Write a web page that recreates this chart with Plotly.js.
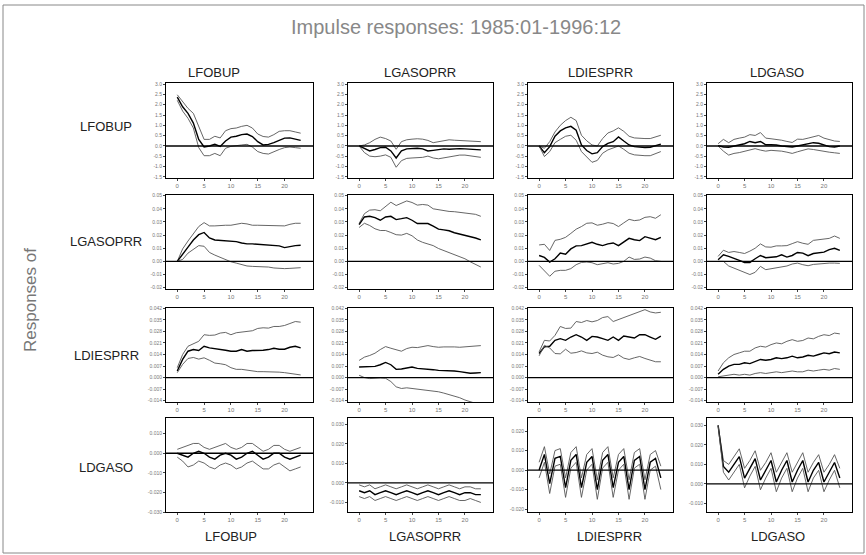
<!DOCTYPE html>
<html><head><meta charset="utf-8">
<script src="https://cdn.plot.ly/plotly-3.0.1.min.js"></script>
<style>html,body{margin:0;padding:0;background:#fff}#chart{width:866px;height:555px}</style>
</head><body><div id="chart"></div>
<script>
const steps = [0,1,2,3,4,5,6,7,8,9,10,11,12,13,14,15,16,17,18,19,20,21,22,23];
const varNames = ['LFOBUP','LGASOPRR','LDIESPRR','LDGASO'];
const xTickVals = [0,5,10,15,20];
const xTickText = ['0','5','10','15','20'];

// Row 1: responses of LFOBUP
const up_r1c1 = [2.48,2.13,1.82,1.58,0.95,0.32,0.32,0.47,0.39,0.74,0.84,0.87,0.95,1.0,0.87,0.58,0.46,0.43,0.55,0.71,0.74,0.74,0.68,0.62];
const mid_r1c1 = [2.37,1.90,1.58,1.11,0.32,-0.05,0.0,0.08,-0.02,0.24,0.43,0.47,0.55,0.58,0.46,0.21,0.05,0.08,0.16,0.28,0.38,0.39,0.32,0.27];
const lo_r1c1 = [2.21,1.69,1.34,0.87,-0.08,-0.47,-0.47,-0.36,-0.47,-0.11,-0.02,0.0,0.05,0.08,-0.05,-0.27,-0.36,-0.39,-0.27,-0.17,-0.08,-0.05,-0.08,-0.11];
const up_r1c2 = [0,0.05,0.16,0.32,0.43,0.36,0.24,-0.16,0.21,0.30,0.33,0.35,0.33,0.27,0.16,0.21,0.28,0.30,0.28,0.27,0.27,0.25,0.24,0.21];
const mid_r1c2 = [0,-0.13,-0.24,-0.17,-0.08,-0.06,-0.24,-0.58,-0.24,-0.14,-0.13,-0.11,-0.14,-0.24,-0.21,-0.16,-0.14,-0.16,-0.14,-0.13,-0.14,-0.16,-0.17,-0.19];
const lo_r1c2 = [0,-0.32,-0.49,-0.52,-0.49,-0.43,-0.55,-1.03,-0.71,-0.60,-0.58,-0.58,-0.55,-0.49,-0.58,-0.62,-0.58,-0.52,-0.47,-0.44,-0.44,-0.47,-0.51,-0.55];
const up_r1c3 = [0,-0.11,0.21,0.68,1.0,1.23,1.39,1.23,0.52,0.25,0.05,0.0,0.36,0.63,0.73,0.88,0.71,0.47,0.39,0.36,0.36,0.36,0.44,0.52];
const mid_r1c3 = [0,-0.32,-0.03,0.47,0.73,0.88,0.95,0.76,0.05,-0.22,-0.38,-0.32,-0.03,0.13,0.21,0.44,0.24,0.05,-0.03,-0.06,-0.08,-0.06,0.0,0.09];
const lo_r1c3 = [0,-0.51,-0.27,0.16,0.32,0.47,0.52,0.28,-0.27,-0.54,-0.79,-0.70,-0.35,-0.19,-0.11,0.0,-0.16,-0.35,-0.43,-0.46,-0.47,-0.47,-0.38,-0.27];
const up_r1c4 = [0.11,0.32,0.16,0.32,0.38,0.43,0.55,0.51,0.65,0.38,0.35,0.33,0.28,0.22,0.17,0.33,0.32,0.38,0.43,0.51,0.38,0.30,0.24,0.22];
const mid_r1c4 = [0.02,-0.05,-0.06,0.0,0.08,0.11,0.22,0.16,0.22,0.06,0.06,0.05,0.0,-0.02,-0.05,0.0,0.06,0.09,0.16,0.13,0.05,-0.03,-0.05,0.0];
const lo_r1c4 = [0,-0.25,-0.44,-0.36,-0.32,-0.25,-0.17,-0.13,-0.20,-0.25,-0.21,-0.22,-0.25,-0.30,-0.36,-0.28,-0.20,-0.14,-0.17,-0.22,-0.25,-0.30,-0.33,-0.36];

// Row 2: responses of LGASOPRR
const up_r2c1 = [0,0.0095,0.0155,0.021,0.0265,0.0295,0.027,0.027,0.0275,0.0275,0.0275,0.028,0.029,0.0285,0.0275,0.0275,0.0275,0.0275,0.0275,0.0273,0.027,0.0282,0.029,0.029];
const mid_r2c1 = [0,0.0058,0.0108,0.0163,0.0203,0.022,0.0178,0.0163,0.016,0.0158,0.0153,0.015,0.014,0.0133,0.0133,0.013,0.0128,0.0128,0.0125,0.0118,0.0105,0.0113,0.012,0.0123];
const lo_r2c1 = [0,0.0015,0.0063,0.0093,0.012,0.0115,0.0068,0.0048,0.003,0.0013,-0.0003,-0.0013,-0.0025,-0.0035,-0.0038,-0.0038,-0.004,-0.0043,-0.005,-0.0055,-0.0055,-0.0053,-0.005,-0.0048];
const up_r2c2 = [0.0288,0.0363,0.039,0.0393,0.0385,0.042,0.045,0.0425,0.0445,0.046,0.0448,0.0428,0.0433,0.0428,0.04,0.0393,0.039,0.038,0.0378,0.0373,0.037,0.0365,0.0358,0.0343];
const mid_r2c2 = [0.028,0.0338,0.0343,0.0333,0.0313,0.0338,0.0343,0.0318,0.0325,0.0333,0.0313,0.0288,0.0288,0.0288,0.0268,0.0245,0.024,0.0233,0.0218,0.0208,0.02,0.0193,0.0178,0.0163];
const lo_r2c2 = [0.0258,0.029,0.0273,0.0248,0.0235,0.0235,0.022,0.0203,0.02,0.0213,0.0195,0.0163,0.0145,0.0133,0.012,0.0098,0.0083,0.0065,0.005,0.0035,0.002,-0.0003,-0.0025,-0.0043];
const up_r2c3 = [0.0125,0.013,0.0083,0.016,0.0168,0.0183,0.0213,0.0245,0.0265,0.029,0.0293,0.0275,0.0283,0.0295,0.0288,0.0265,0.0293,0.032,0.031,0.0315,0.0335,0.034,0.0328,0.0355];
const mid_r2c3 = [0.0045,0.003,-0.0005,0.002,0.0063,0.0055,0.0095,0.0118,0.012,0.013,0.0145,0.013,0.012,0.0133,0.014,0.012,0.0145,0.0175,0.0165,0.0158,0.0188,0.0175,0.0165,0.0183];
const lo_r2c3 = [-0.003,-0.0068,-0.0113,-0.0075,-0.0068,-0.0068,-0.0055,-0.0025,-0.0008,-0.0005,-0.001,-0.0025,-0.0015,-0.001,-0.002,-0.0015,0.0,0.0033,0.0015,0.0018,0.0033,0.0025,0.0005,0.0];
const up_r2c4 = [0.0038,0.0085,0.0068,0.0075,0.0068,0.006,0.0078,0.01,0.0133,0.011,0.0108,0.0118,0.0118,0.012,0.0135,0.015,0.0138,0.013,0.016,0.0165,0.0168,0.0175,0.0193,0.0175];
const mid_r2c4 = [0.0013,0.005,0.0038,0.0025,0.0008,-0.0008,-0.0008,0.002,0.0045,0.0028,0.0033,0.0035,0.005,0.0033,0.0045,0.0068,0.0063,0.0043,0.006,0.0065,0.007,0.009,0.01,0.0083];
const lo_r2c4 = [0,0,-0.0035,-0.005,-0.0068,-0.0085,-0.01,-0.0083,-0.0038,-0.0063,-0.0055,-0.005,-0.004,-0.0035,-0.002,-0.0013,-0.0025,-0.0033,-0.0023,-0.0018,-0.0013,-0.0013,-0.0013,-0.0015];

// Row 3: responses of LDIESPRR
const up_r3c1 = [0.006,0.014,0.019,0.0205,0.022,0.026,0.0256,0.0258,0.027,0.0274,0.026,0.0272,0.0276,0.028,0.0284,0.0298,0.0302,0.03,0.031,0.031,0.0316,0.0328,0.034,0.0336];
const mid_r3c1 = [0.004,0.011,0.016,0.017,0.0164,0.019,0.018,0.0176,0.0174,0.0166,0.016,0.016,0.017,0.016,0.0164,0.0164,0.0166,0.017,0.0178,0.0172,0.0172,0.0184,0.019,0.018];
const lo_r3c1 = [0.003,0.008,0.0116,0.0122,0.0112,0.012,0.0105,0.0088,0.0084,0.0078,0.006,0.005,0.005,0.0045,0.004,0.0036,0.0036,0.0036,0.0036,0.0033,0.003,0.0026,0.0022,0.0016];
const up_r3c2 = [0.0104,0.0124,0.0134,0.0148,0.017,0.0188,0.0178,0.0168,0.016,0.0176,0.0184,0.0182,0.0188,0.0194,0.0188,0.0184,0.0186,0.0188,0.0186,0.0184,0.0186,0.0186,0.0188,0.0194];
const mid_r3c2 = [0.0064,0.0064,0.0064,0.0068,0.0078,0.0092,0.0078,0.005,0.0052,0.0058,0.0064,0.0056,0.0054,0.0054,0.0048,0.0044,0.0044,0.0044,0.004,0.0036,0.003,0.0026,0.0028,0.003];
const lo_r3c2 = [0.0014,0.0,-0.0006,-0.0002,-0.0002,-0.0004,-0.0024,-0.0056,-0.0066,-0.0062,-0.0066,-0.0068,-0.0072,-0.0078,-0.008,-0.0086,-0.0094,-0.0102,-0.011,-0.0122,-0.0136,-0.0146,-0.0156,-0.0166];
const up_r3c3 = [0.0156,0.0226,0.0222,0.0256,0.031,0.0298,0.03,0.034,0.0334,0.0346,0.0338,0.0346,0.0364,0.037,0.034,0.0352,0.0368,0.0378,0.0388,0.0402,0.0412,0.0398,0.0392,0.0396];
const mid_r3c3 = [0.0146,0.0186,0.019,0.0226,0.0236,0.0226,0.0246,0.026,0.0246,0.0226,0.025,0.0246,0.0236,0.0226,0.0246,0.0226,0.0252,0.0246,0.024,0.026,0.026,0.0246,0.0232,0.0252];
const lo_r3c3 = [0.0132,0.0196,0.018,0.0146,0.0144,0.0172,0.0148,0.0152,0.0162,0.015,0.0146,0.0154,0.0136,0.0126,0.0122,0.0138,0.0118,0.011,0.012,0.0128,0.0116,0.0108,0.0096,0.0096];
const up_r3c4 = [0.004,0.009,0.012,0.014,0.015,0.016,0.016,0.018,0.019,0.0185,0.02,0.021,0.0205,0.022,0.023,0.022,0.0225,0.024,0.0235,0.025,0.026,0.0255,0.027,0.0265];
const mid_r3c4 = [0.002,0.005,0.007,0.008,0.008,0.009,0.0085,0.01,0.011,0.0105,0.011,0.012,0.0115,0.012,0.013,0.012,0.0125,0.0135,0.013,0.014,0.015,0.0145,0.0155,0.015];
const lo_r3c4 = [0.0005,0.001,0.0015,0.002,0.0015,0.002,0.0015,0.0025,0.003,0.0025,0.003,0.0035,0.003,0.0035,0.004,0.0035,0.0035,0.0045,0.004,0.0045,0.005,0.0045,0.0055,0.005];

// Row 4: responses of LDGASO
const up_r4c1 = [0.002,0.003,0.004,0.005,0.005,0.003,0.002,0.003,0.004,0.005,0.003,0.002,0.003,0.005,0.005,0.003,0.001,0.002,0.004,0.004,0.002,0.001,0.002,0.003];
const mid_r4c1 = [0.0,-0.001,-0.002,0.0,0.001,0.0,-0.002,-0.003,-0.001,0.0,-0.001,-0.003,-0.002,0.0,0.001,-0.001,-0.003,-0.002,0.0,0.0,-0.002,-0.003,-0.002,-0.001];
const lo_r4c1 = [-0.002,-0.004,-0.007,-0.006,-0.004,-0.005,-0.007,-0.008,-0.006,-0.005,-0.006,-0.008,-0.007,-0.005,-0.004,-0.006,-0.008,-0.008,-0.006,-0.005,-0.007,-0.009,-0.008,-0.007];
const up_r4c2 = [-0.001,-0.002,-0.001,-0.003,-0.002,-0.001,-0.002,-0.003,-0.002,-0.001,-0.002,-0.003,-0.002,-0.001,-0.002,-0.003,-0.002,-0.001,-0.002,-0.003,-0.002,-0.002,-0.003,-0.003];
const mid_r4c2 = [-0.004,-0.005,-0.004,-0.006,-0.005,-0.004,-0.005,-0.006,-0.005,-0.004,-0.005,-0.006,-0.005,-0.004,-0.005,-0.006,-0.005,-0.004,-0.005,-0.006,-0.005,-0.005,-0.006,-0.006];
const lo_r4c2 = [-0.007,-0.008,-0.007,-0.009,-0.008,-0.007,-0.008,-0.009,-0.008,-0.007,-0.008,-0.009,-0.008,-0.007,-0.008,-0.009,-0.008,-0.007,-0.008,-0.009,-0.009,-0.008,-0.009,-0.010];
const up_r4c3 = [0.004,0.012,-0.002,0.010,0.011,-0.004,0.009,0.012,-0.004,0.008,0.011,-0.005,0.009,0.012,-0.004,0.008,0.011,-0.005,0.009,0.011,-0.005,0.008,0.010,0.002];
const mid_r4c3 = [0.0,0.008,-0.007,0.006,0.007,-0.009,0.005,0.008,-0.009,0.004,0.007,-0.010,0.005,0.008,-0.009,0.004,0.007,-0.010,0.005,0.007,-0.010,0.004,0.006,-0.004];
const lo_r4c3 = [-0.004,0.004,-0.012,0.002,0.003,-0.014,0.001,0.004,-0.014,0.0,0.003,-0.015,0.001,0.004,-0.014,0.0,0.003,-0.015,0.001,0.003,-0.015,0.0,0.002,-0.010];
const up_r4c4 = [0.030,0.012,0.010,0.014,0.018,0.008,0.012,0.017,0.007,0.011,0.016,0.006,0.011,0.016,0.006,0.011,0.016,0.006,0.011,0.015,0.006,0.010,0.015,0.008];
const mid_r4c4 = [0.030,0.009,0.006,0.010,0.014,0.003,0.008,0.013,0.002,0.007,0.012,0.001,0.007,0.012,0.001,0.007,0.012,0.001,0.007,0.011,0.001,0.006,0.011,0.003];
const lo_r4c4 = [0.030,0.006,0.002,0.006,0.010,-0.002,0.004,0.009,-0.003,0.003,0.008,-0.004,0.003,0.008,-0.004,0.003,0.008,-0.004,0.003,0.007,-0.004,0.002,0.007,-0.002];

// y axis ticks per row
const yTicksRow1 = [3.0,2.5,2.0,1.5,1.0,0.5,0.0,-0.5,-1.0,-1.5];
const yTextRow1 = ['3.0','2.5','2.0','1.5','1.0','0.5','0.0','-0.5','-1.0','-1.5'];
const yTicksRow2 = [0.05,0.04,0.03,0.02,0.01,0.0,-0.01,-0.02];
const yTextRow2 = ['0.05','0.04','0.03','0.02','0.01','0.00','-0.01','-0.02'];
const yTicksRow3 = [0.042,0.035,0.028,0.021,0.014,0.007,0.0,-0.007,-0.014];
const yTextRow3 = ['0.042','0.035','0.028','0.021','0.014','0.007','0.000','-0.007','-0.014'];
const yTicksRow4 = [0.03,0.02,0.01,0.0,-0.01,-0.02,-0.03];
const yTextRow4 = ['0.030','0.020','0.010','0.000','-0.010','-0.020','-0.030'];

const W = 866, H = 555;
const colPx = [[166,313],[348,493],[528,673],[707,852]];
const rowPx = [[83,178],[195,289],[308,402],[418,512]];
const yRanges = [
  [[-1.55,3.05],[-1.55,3.05],[-1.55,3.05],[-1.55,3.05]],
  [[-0.021,0.0505],[-0.021,0.0505],[-0.021,0.0505],[-0.021,0.0505]],
  [[-0.0148,0.0422],[-0.0148,0.0422],[-0.0148,0.0422],[-0.0148,0.0422]],
  [[-0.030,0.018],[-0.0149,0.0333],[-0.0215,0.0267],[-0.0144,0.0338]]
];
const yTicks = [[yTicksRow1,yTextRow1],[yTicksRow2,yTextRow2],[yTicksRow3,yTextRow3],[yTicksRow4,yTextRow4]];

const series = {
  r1c1:[up_r1c1,mid_r1c1,lo_r1c1], r1c2:[up_r1c2,mid_r1c2,lo_r1c2], r1c3:[up_r1c3,mid_r1c3,lo_r1c3], r1c4:[up_r1c4,mid_r1c4,lo_r1c4],
  r2c1:[up_r2c1,mid_r2c1,lo_r2c1], r2c2:[up_r2c2,mid_r2c2,lo_r2c2], r2c3:[up_r2c3,mid_r2c3,lo_r2c3], r2c4:[up_r2c4,mid_r2c4,lo_r2c4],
  r3c1:[up_r3c1,mid_r3c1,lo_r3c1], r3c2:[up_r3c2,mid_r3c2,lo_r3c2], r3c3:[up_r3c3,mid_r3c3,lo_r3c3], r3c4:[up_r3c4,mid_r3c4,lo_r3c4],
  r4c1:[up_r4c1,mid_r4c1,lo_r4c1], r4c2:[up_r4c2,mid_r4c2,lo_r4c2], r4c3:[up_r4c3,mid_r4c3,lo_r4c3], r4c4:[up_r4c4,mid_r4c4,lo_r4c4]
};

const traces = [];
const shapes = [];
const layout = {
  width: W, height: H, margin: {l:0,r:0,t:0,b:0},
  paper_bgcolor: '#fff', plot_bgcolor: '#fff', showlegend: false,
  font: {family: 'Liberation Sans, Arial, sans-serif', color: '#222'},
  annotations: [], shapes: shapes
};

for (let r = 0; r < 4; r++) {
  for (let c = 0; c < 4; c++) {
    const k = r*4 + c + 1;
    const sfx = k === 1 ? '' : String(k);
    const s = series['r'+(r+1)+'c'+(c+1)];
    const styles = [
      {color:'#555', width:0.9},
      {color:'#000', width:1.4},
      {color:'#555', width:0.9}
    ];
    s.forEach((arr, i) => {
      traces.push({x: steps, y: arr, type:'scatter', mode:'lines', xaxis:'x'+sfx, yaxis:'y'+sfx,
        line: styles[i], hoverinfo:'skip'});
    });
    layout['xaxis'+sfx] = {
      domain: [colPx[c][0]/W, colPx[c][1]/W], range: [-2.1, 25.3], anchor: 'y'+sfx,
      tickvals: xTickVals, ticktext: xTickText, ticks: 'outside', ticklen: 2, tickcolor:'#444',
      tickfont: {size: 6, color: '#777'}, showgrid: false, zeroline: false,
      showline: true, mirror: true, linecolor: '#000', linewidth: 1
    };
    layout['yaxis'+sfx] = {
      domain: [1 - rowPx[r][1]/H, 1 - rowPx[r][0]/H], range: yRanges[r][c], anchor: 'x'+sfx,
      tickvals: yTicks[r][0], ticktext: yTicks[r][1], ticks: 'outside', ticklen: 2, tickcolor:'#444',
      tickfont: {size: 5, color: '#777'}, showgrid: false, zeroline: false,
      showline: true, mirror: true, linecolor: '#000', linewidth: 1
    };
    shapes.push({type:'line', xref:'x'+sfx+' domain', yref:'y'+sfx, x0:0, x1:1, y0:0, y1:0,
      line:{color:'#000', width:1.3}});
  }
}

// outer frame
shapes.push({type:'rect', xref:'paper', yref:'paper', x0:3/W, x1:864/W, y0:1-553/H, y1:1-5/H,
  line:{color:'#888', width:1}});

const ann = layout.annotations;
const px = (x) => x/W, py = (y) => 1 - y/H;
function label(text, x, y, font, extra) {
  ann.push(Object.assign({text: text, xref:'paper', yref:'paper', x: px(x), y: py(y),
    xanchor:'center', yanchor:'middle', showarrow:false, font: font}, extra || {}));
}
label('Impulse responses: 1985:01-1996:12', 456, 27,
  {size:20, color:'#888', family:'Liberation Sans, Arial, sans-serif'});
const topX = [214, 420, 600, 777];
const botX = [231, 425, 609, 778];
const rowY = [126, 241, 355, 467];
varNames.forEach((v, i) => {
  label(v, topX[i], 72, {size:13});
  label(v, botX[i], 536, {size:13});
  label(v, 106, rowY[i], {size:13});
});
label('Responses of', 30, 300, {size:17, color:'#777'}, {textangle:-90});

Plotly.newPlot('chart', traces, layout, {staticPlot:true, displayModeBar:false});
</script></body></html>
